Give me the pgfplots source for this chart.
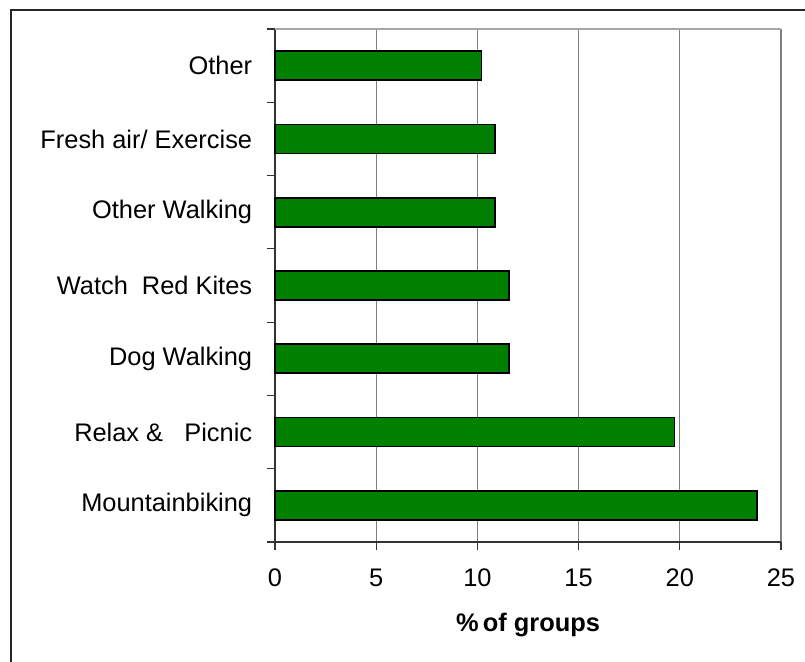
\documentclass[border=0pt]{standalone}
\usepackage{pgfplots}
\pgfplotsset{compat=1.18}
\usepackage{fontspec}
\setmainfont{Liberation Sans}
\definecolor{bargreen}{RGB}{0,128,0}
\definecolor{gridgray}{RGB}{128,128,128}
\begin{document}
\fontsize{12.7bp}{15bp}\selectfont
\begin{tikzpicture}
\useasboundingbox (-137.5bp,-60bp) rectangle (265bp,271bp);
\draw[line width=0.8bp, black!85] (267.5bp,266bp) -- (-132bp,266bp) -- (-132bp,-64bp);
\begin{axis}[
  at={(0,0)}, anchor=south west,
  scale only axis,
  width=253bp, height=256.5bp,
  xbar, bar width=14.5bp,
  xmin=0, xmax=25, ymin=-0.5, ymax=6.5,
  xtick={0,5,10,15,20,25},
  ytick={-0.5,0.5,1.5,2.5,3.5,4.5,5.5,6.5},
  yticklabels={},
  extra y ticks={0,1,2,3,4,5,6},
  extra y tick labels={Mountainbiking,Relax \&\ \ \ Picnic,Dog Walking,Watch\ \ Red Kites,Other Walking\ ,Fresh air/ Exercise,Other},
  extra y tick style={major tick length=0pt, yticklabel style={xshift=-7bp}},
  axis x line*=bottom, axis y line*=left,
  axis line style={black!80, line width=0.6bp},
  tick align=outside,
  major tick length=4bp,
  tick style={black!80, line width=0.6bp},
  xmajorgrids, major x grid style={gridgray, line width=0.6bp},
  /pgf/number format/assume math mode=true,
  ticklabel style={font=\fontsize{12.7bp}{15bp}\selectfont},
  xticklabel style={yshift=-5bp},
  xlabel={\textbf{\%\,of groups}},
  xlabel style={font=\fontsize{12.7bp}{15bp}\selectfont, yshift=-4.5bp},
  clip=false,
]
\draw[gridgray!70, line width=0.6bp] (rel axis cs:0,1) -- (rel axis cs:1,1);
\addplot[fill=bargreen, draw=black, line width=0.8bp] coordinates {
  (23.81,0) (19.73,1) (11.56,2) (11.56,3) (10.88,4) (10.88,5) (10.2,6)
};
\end{axis}
\end{tikzpicture}
\end{document}
